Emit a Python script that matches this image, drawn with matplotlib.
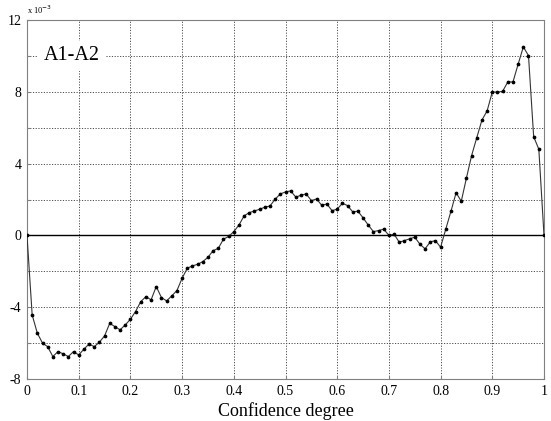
import matplotlib
matplotlib.use("Agg")
import matplotlib.pyplot as plt
import numpy as np

# confidence degree (step 0.01) and A1-A2 difference (x 1e-3)
conf = np.arange(0, 101) / 100.0
diff = [0.0, -4.43, -5.45, -6.0, -6.2, -6.75, -6.47, -6.6, -6.75, -6.47,
        -6.66, -6.34, -6.05, -6.2, -5.95, -5.6, -4.9, -5.08, -5.26, -4.99,
        -4.67, -4.24, -3.69, -3.41, -3.59, -2.85, -3.46, -3.65, -3.37, -3.07,
        -2.39, -1.83, -1.70, -1.61, -1.46, -1.22, -0.85, -0.72, -0.21, -0.06,
        0.21, 0.58, 1.09, 1.27, 1.36, 1.46, 1.57, 1.64, 2.02, 2.31,
        2.42, 2.48, 2.13, 2.24, 2.31, 1.94, 2.03, 1.68, 1.75, 1.38,
        1.46, 1.79, 1.66, 1.31, 1.35, 0.98, 0.58, 0.21, 0.27, 0.35,
        0.0, 0.07, -0.38, -0.29, -0.19, -0.10, -0.49, -0.75, -0.36, -0.29,
        -0.66, 0.35, 1.34, 2.38, 1.90, 3.20, 4.45, 5.45, 6.43, 6.94,
        7.99, 7.98, 8.03, 8.55, 8.55, 9.54, 10.50, 10.02, 5.50, 4.80,
        0.0]

xticks = np.arange(0, 11) / 10.0
xlabels = ["0", "0.1", "0.2", "0.3", "0.4", "0.5", "0.6", "0.7", "0.8", "0.9", "1"]
yticks = np.arange(-8, 13, 2)
ylabels = ["-8", "", "-4", "", "0", "", "4", "", "8", "", "12"]

plt.rcParams["font.family"] = ["Liberation Serif", "DejaVu Serif"]

fig = plt.figure(figsize=(5.51, 4.21), dpi=100)
ax = fig.add_axes([27 / 551, 1 - 379 / 421, 517 / 551, 359 / 421])

ax.plot(conf, diff, color="0.2", lw=0.8, marker="o", ms=1.7,
        mfc="black", mec="black", zorder=3)
ax.axhline(0, color="black", lw=1.0, zorder=2)

ax.set_xlim(0, 1)
ax.set_ylim(-8, 12)
ax.set_xticks(xticks)
ax.set_xticklabels(xlabels, fontsize=10)
ax.set_yticks(yticks)
ax.set_yticklabels(ylabels, fontsize=10)
ax.tick_params(direction="in", length=2, color="0.5", pad=4)
ax.grid(True, linestyle=(0, (1.2, 1.6)), color="0.3", lw=0.7)
for s in ax.spines.values():
    s.set_color("0.5")
    s.set_linewidth(0.8)

ax.set_xlabel("Confidence degree", fontsize=13, labelpad=3)
ax.text(0.033, 10.0, "A1-A2", fontsize=14.5, va="center", ha="left",
        bbox=dict(facecolor="white", edgecolor="none", pad=4), zorder=4)
ax.text(0.0, 1.012, r"x 10$^{-3}$", transform=ax.transAxes,
        fontsize=6, ha="left", va="bottom")

plt.savefig("out.png", dpi=100)
